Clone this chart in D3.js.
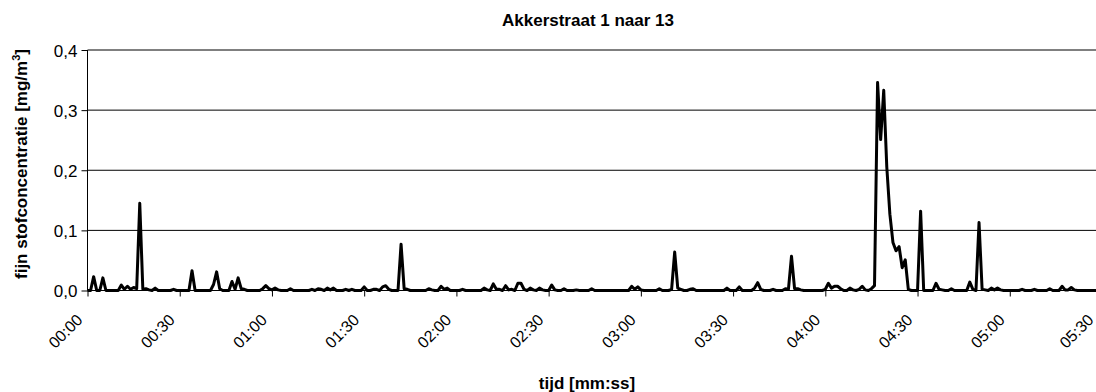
<!DOCTYPE html>
<html>
<head>
<meta charset="utf-8">
<script src="https://cdn.jsdelivr.net/npm/d3@7"></script>
<style>
  html, body { margin: 0; padding: 0; background: #fff; overflow: hidden; }
  svg { display: block; font-family: "Liberation Sans", Arial, Helvetica, sans-serif; }
</style>
</head>
<body>
<svg id="chart" width="1096" height="392"></svg>
<script>
// Fine dust measurement, one sample per second (mg/m3)
const chartTitle = "Akkerstraat 1 naar 13";
const xAxisTitle = "tijd [mm:ss]";
const yAxisTitle = "fijn stofconcentratie [mg/m";
const yAxisTitleSup = "3";
const yAxisTitleEnd = "]";

const concentration = [
  0, 0, 0.023, 0, 0, 0.021, 0, 0, 0, 0,
  0, 0.009, 0.002, 0.007, 0.002, 0.005, 0.003, 0.145, 0.002, 0.003,
  0.001, 0, 0.004, 0, 0, 0, 0, 0, 0.002, 0,
  0, 0, 0, 0, 0.033, 0, 0, 0, 0, 0,
  0, 0.010, 0.031, 0.003, 0, 0, 0, 0.015, 0.002, 0.021,
  0.003, 0.002, 0, 0, 0, 0, 0, 0.003, 0.008, 0.003,
  0.001, 0.004, 0.001, 0, 0, 0, 0.003, 0, 0, 0,
  0, 0, 0, 0.002, 0, 0.003, 0.002, 0, 0.004, 0.001,
  0.004, 0, 0, 0, 0.002, 0, 0.002, 0, 0, 0,
  0.006, 0, 0, 0.002, 0.002, 0, 0.006, 0.008, 0.002, 0,
  0, 0, 0.077, 0.003, 0.002, 0, 0, 0, 0, 0,
  0, 0.003, 0.001, 0, 0, 0.007, 0.002, 0.004, 0, 0,
  0, 0, 0.002, 0, 0, 0, 0, 0, 0, 0.004,
  0.001, 0, 0.011, 0.002, 0.002, 0, 0.008, 0.001, 0.002, 0,
  0.012, 0.012, 0.002, 0, 0.004, 0.001, 0, 0.004, 0.001, 0,
  0, 0.009, 0.001, 0, 0, 0.003, 0, 0, 0, 0.001,
  0, 0, 0, 0, 0.003, 0, 0, 0, 0, 0,
  0, 0, 0, 0, 0, 0, 0, 0.007, 0.002, 0.006,
  0.001, 0, 0, 0, 0, 0, 0.003, 0, 0, 0,
  0.002, 0.064, 0.004, 0.002, 0, 0, 0.002, 0.003, 0, 0,
  0, 0, 0, 0, 0, 0, 0, 0, 0.004, 0,
  0, 0, 0.006, 0, 0, 0, 0, 0.004, 0.013, 0.002,
  0, 0, 0, 0.002, 0, 0, 0, 0.003, 0.002, 0.057,
  0.003, 0.003, 0.001, 0, 0, 0, 0, 0, 0, 0,
  0.002, 0.012, 0.004, 0.007, 0.007, 0.003, 0, 0, 0.004, 0.001,
  0, 0.002, 0.007, 0.001, 0, 0.003, 0.008, 0.346, 0.251, 0.333,
  0.205, 0.127, 0.080, 0.066, 0.073, 0.038, 0.051, 0.002, 0, 0,
  0, 0.132, 0, 0, 0, 0, 0.012, 0.002, 0.001, 0,
  0, 0.003, 0, 0, 0, 0, 0, 0.014, 0.002, 0,
  0.113, 0.002, 0.001, 0, 0.004, 0.001, 0.004, 0.001, 0, 0,
  0, 0, 0, 0, 0.002, 0, 0, 0, 0.002, 0,
  0, 0, 0, 0.003, 0, 0, 0, 0.007, 0.001, 0.001,
  0.005, 0.001, 0, 0, 0, 0, 0, 0, 0, 0,
  0
];

const xTickSeconds = [0, 30, 60, 90, 120, 150, 180, 210, 240, 270, 300, 330];
const xTickLabels = ["00:00", "00:30", "01:00", "01:30", "02:00", "02:30",
                     "03:00", "03:30", "04:00", "04:30", "05:00", "05:30"];
const yTickValues = [0, 0.1, 0.2, 0.3, 0.4];
const yTickLabels = ["0,0", "0,1", "0,2", "0,3", "0,4"];

const W = 1096;
const svg = d3.select("#chart");

const plot = { left: 87.5, right: 1102, top: 50, bottom: 290.5 };

const x = d3.scaleLinear().domain([0, 330]).range([plot.left, plot.right]);
const y = d3.scaleLinear().domain([0, 0.4]).range([plot.bottom, plot.top]);

// horizontal gridlines
svg.append("g")
  .selectAll("line")
  .data(yTickValues.filter(v => v > 0))
  .join("line")
  .attr("x1", plot.left).attr("x2", plot.right)
  .attr("y1", d => y(d)).attr("y2", d => y(d))
  .attr("stroke", "#000").attr("stroke-width", 1);

// y axis
const yAxis = d3.axisLeft(y)
  .tickValues(yTickValues)
  .tickFormat((d, i) => yTickLabels[i])
  .tickSize(6)
  .tickPadding(4);
const gy = svg.append("g")
  .attr("transform", `translate(${plot.left},0)`)
  .call(yAxis);
gy.select(".domain").attr("stroke", "#000").attr("d", `M0,${plot.top}V${plot.bottom}`);
gy.selectAll(".tick line").attr("stroke", "#000");
gy.selectAll(".tick text")
  .attr("font-size", 17)
  .attr("font-family", "Liberation Sans, Arial, sans-serif")
  .attr("fill", "#000")
  .attr("dy", "0.36em");

// x axis; rotated labels end just left of their tick, kept inside the frame
const xAxis = d3.axisBottom(x)
  .tickValues(xTickSeconds)
  .tickFormat((d, i) => xTickLabels[i])
  .tickSize(6)
  .tickPadding(0);
const gx = svg.append("g")
  .attr("transform", `translate(0,${plot.bottom})`)
  .call(xAxis);
gx.select(".domain").attr("stroke", "#000").attr("d", `M${plot.left},0H${plot.right}`);
gx.selectAll(".tick line").attr("stroke", "#000");
gx.selectAll(".tick text")
  .attr("font-size", 16)
  .attr("font-family", "Liberation Sans, Arial, sans-serif")
  .attr("fill", "#000")
  .attr("text-anchor", "end")
  .attr("dy", 0)
  .attr("y", 0)
  .attr("transform", d => {
    const dx = Math.min(-4.5, (W - 2) - x(d));
    return `translate(${dx},30.5) rotate(-45)`;
  });

// concentration trace
const line = d3.line()
  .x((d, i) => x(i))
  .y(d => y(d));

svg.append("path")
  .datum(concentration)
  .attr("d", line)
  .attr("fill", "none")
  .attr("stroke", "#000")
  .attr("stroke-width", 3)
  .attr("stroke-linejoin", "round");

// titles
svg.append("text")
  .attr("x", 588).attr("y", 26)
  .attr("text-anchor", "middle")
  .attr("font-weight", "bold")
  .attr("font-size", 17)
  .text(chartTitle);

svg.append("text")
  .attr("x", 587).attr("y", 389)
  .attr("text-anchor", "middle")
  .attr("font-weight", "bold")
  .attr("font-size", 17)
  .text(xAxisTitle);

const yt = svg.append("text")
  .attr("transform", "translate(27,164) rotate(-90)")
  .attr("text-anchor", "middle")
  .attr("font-weight", "bold")
  .attr("font-size", 17);
yt.append("tspan").text(yAxisTitle);
yt.append("tspan").attr("font-size", 11).attr("dy", -7).text(yAxisTitleSup);
yt.append("tspan").attr("dy", 7).text(yAxisTitleEnd);
</script>
</body>
</html>
